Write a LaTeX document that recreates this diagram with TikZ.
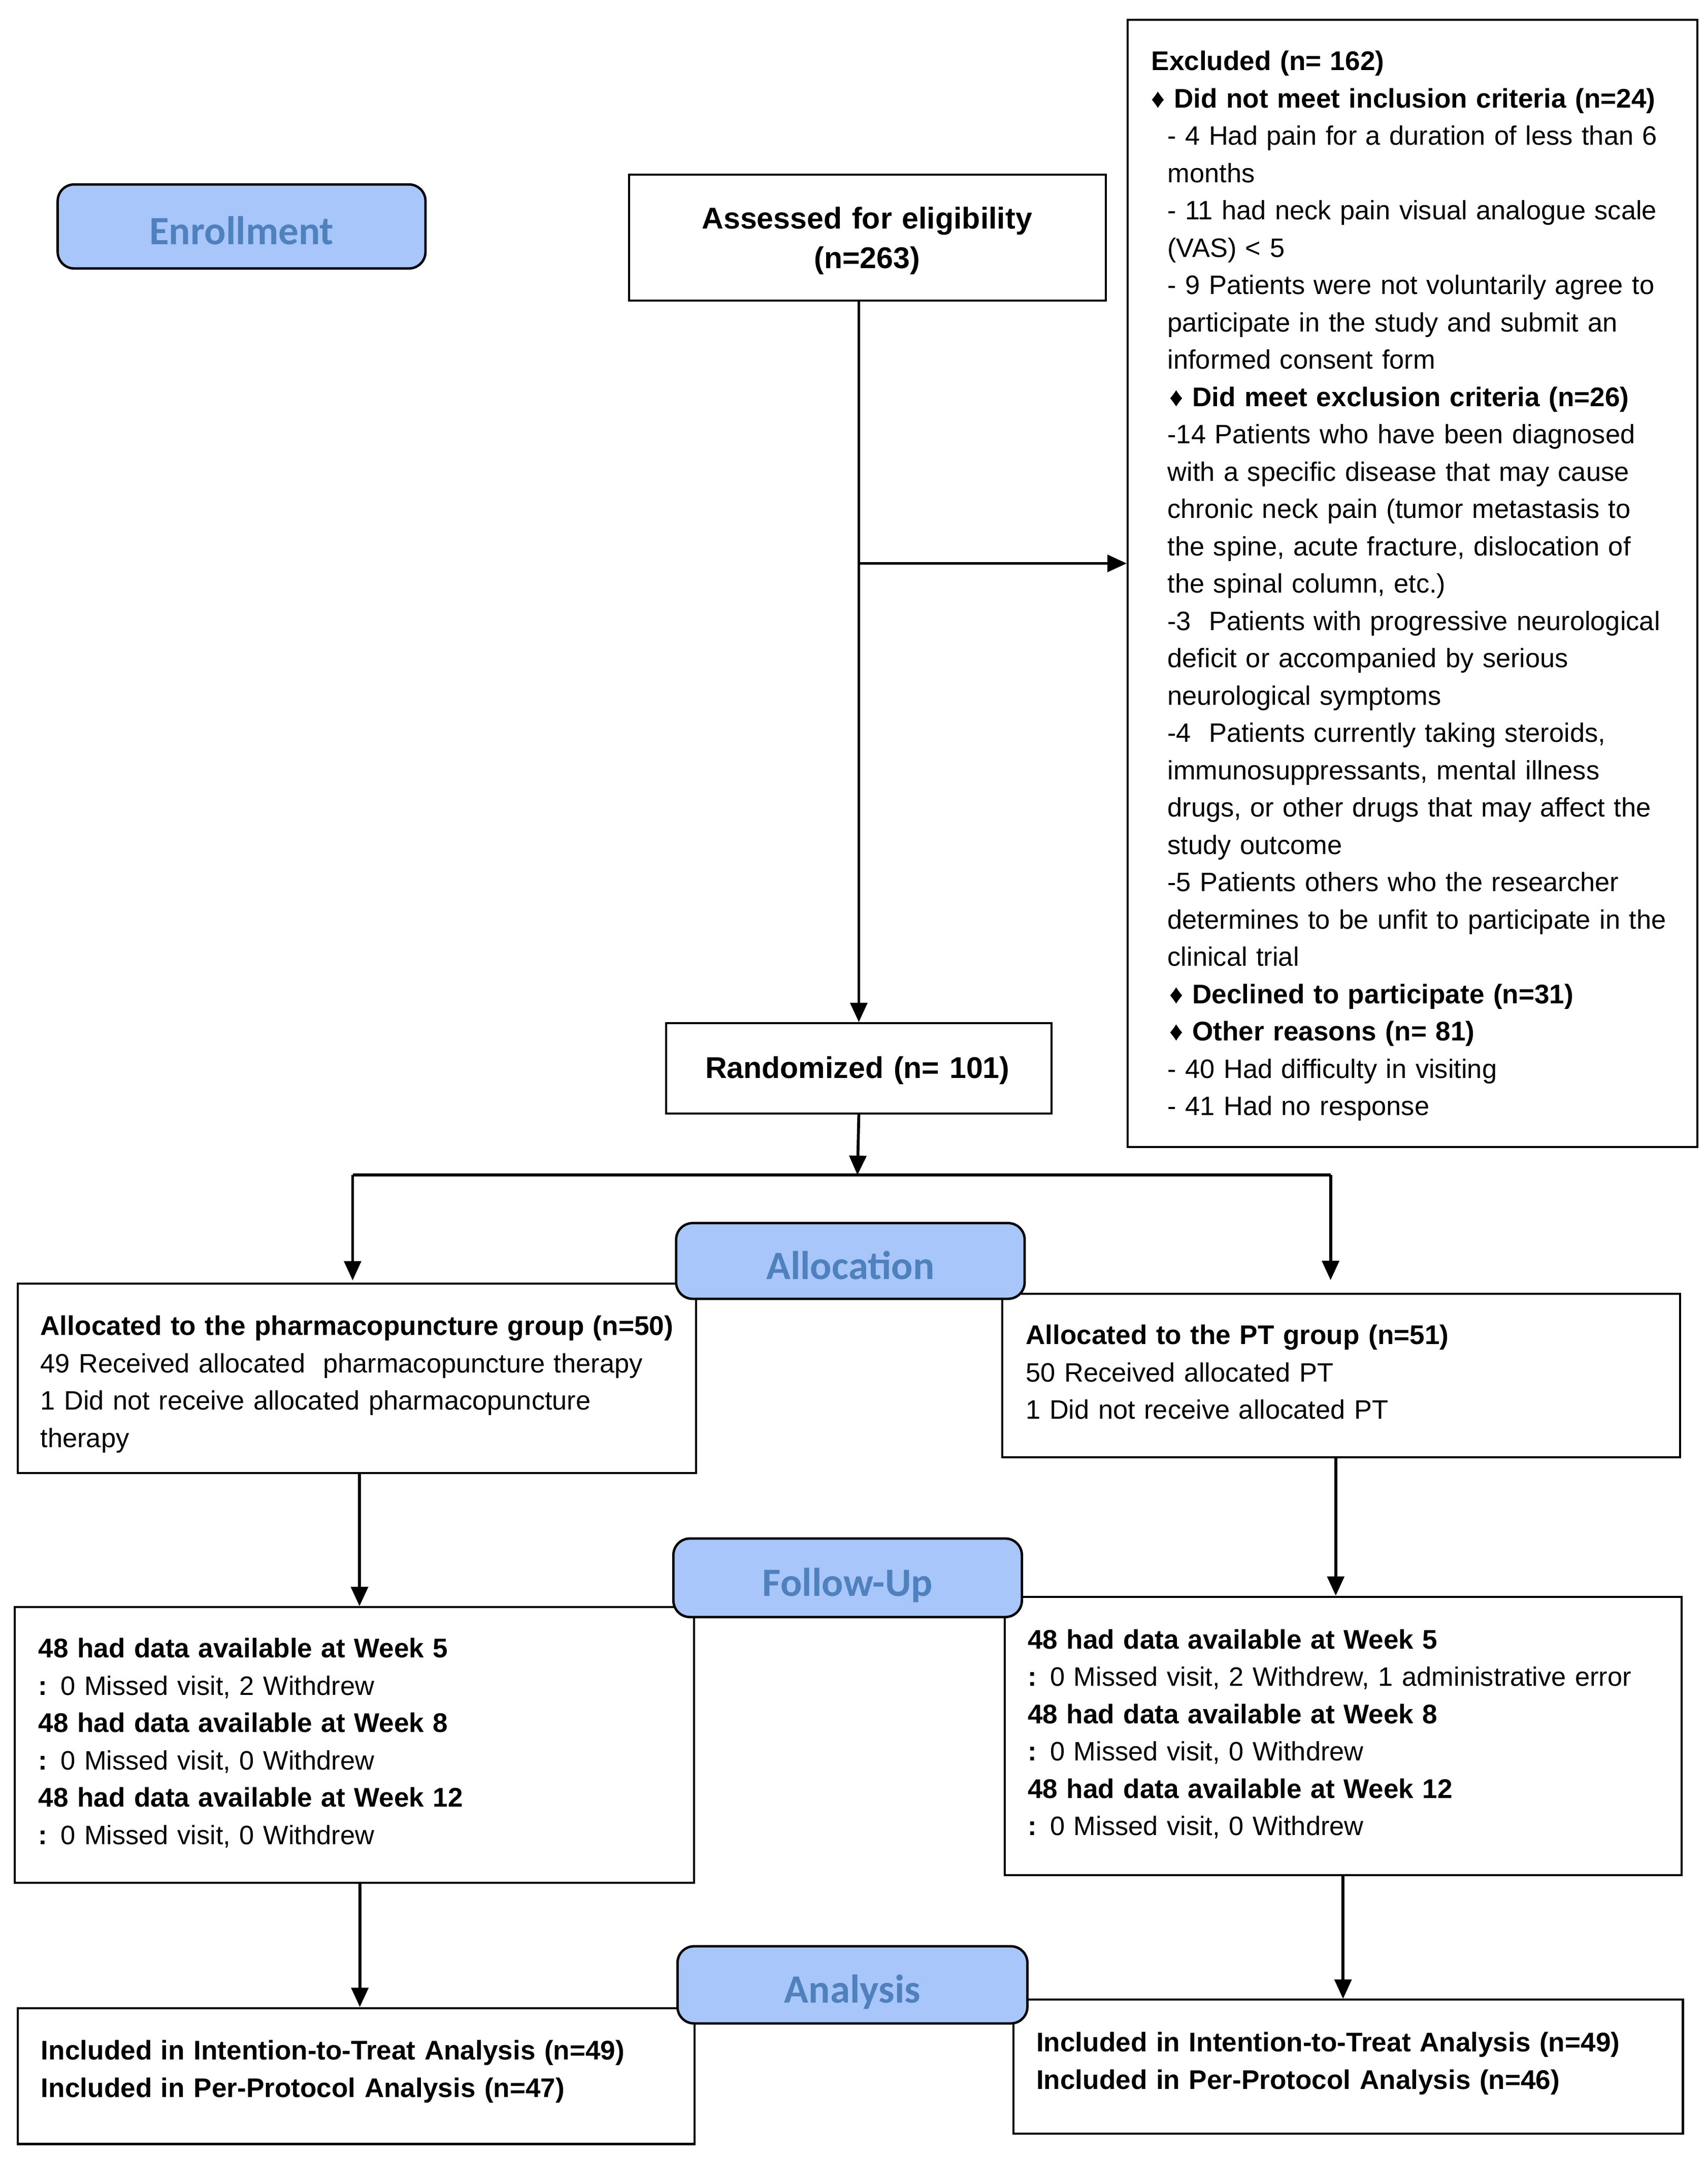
\documentclass[tikz,border=0pt]{standalone}
\usepackage{fontspec}
\setmainfont{Liberation Sans}
\newfontfamily\lblfont{Carlito}
\usetikzlibrary{arrows.meta,calc}
\definecolor{lblfill}{RGB}{169,198,250}
\definecolor{lbltext}{RGB}{79,129,189}
\newcommand\B[1]{{\fontsize{11.15}{15.42}\selectfont\bfseries #1}}
\tikzset{
  box/.style={draw=black, line width=0.85pt, fill=white, inner sep=0pt, anchor=north west},
  sz/.style 2 args={minimum width=#1*0.02cm, minimum height=#2*0.02cm},
  lbl/.style={draw=black, line width=1pt, fill=lblfill, rounded corners=0.24cm, text=lbltext,
    font=\lblfont\bfseries\fontsize{16.6}{20}\selectfont, inner sep=0pt, anchor=north west,
    text height=15pt, text depth=0pt},
  txt/.style={anchor=base west, inner sep=0pt, align=left, text width=#1,
    font=\fontsize{11.0}{15.42}\selectfont},
  bigtxt/.style={anchor=base, inner sep=0pt, align=center, text width=#1,
    font=\bfseries\fontsize{12.4}{16.4}\selectfont},
  arr/.style={line width=1.2pt, -{Triangle[length=8pt,width=7pt]}},
  conn/.style={line width=1.2pt},
}
\begin{document}
\begin{tikzpicture}[x=0.02cm,y=-0.02cm]
\fill[white] (0,0) rectangle (1240,1566.6);
\useasboundingbox (0,0) rectangle (1240,1566.6);

% ---- boxes ----
\node[box, sz={346}{91.5}] (assess) at (456,126) {};
\node[bigtxt=6.5cm] (assesst) at (629.5,165.9) {Assessed for eligibility\\(n=263)};

\node[box, sz={279.5}{65.5}] (rand) at (483,742) {};
\node[bigtxt=5cm] (randt) at (622.5,782.6) {Randomized (n= 101)};

\node[box, sz={413.5}{818.5}] (excl) at (818,13.5) {};
\node[txt=7.8cm] (exclt) at (835.5,51.2) {%
\B{Excluded (n= 162)}\\
\B{♦ Did not meet inclusion criteria (n=24)}\\
\hspace*{6.7pt}- 4 Had pain for a duration of less than 6\\
\hspace*{6.7pt}months\\
\hspace*{6.7pt}- 11 had neck pain visual analogue scale\\
\hspace*{6.7pt}(VAS) < 5\\
\hspace*{6.7pt}- 9 Patients were not voluntarily agree to\\
\hspace*{6.7pt}participate in the study and submit an\\
\hspace*{6.7pt}informed consent form\\
\hspace*{7.6pt}\B{♦ Did meet exclusion criteria (n=26)}\\
\hspace*{6.7pt}-14 Patients who have been diagnosed\\
\hspace*{6.7pt}with a specific disease that may cause\\
\hspace*{6.7pt}chronic neck pain (tumor metastasis to\\
\hspace*{6.7pt}the spine, acute fracture, dislocation of\\
\hspace*{6.7pt}the spinal column, etc.)\\
\hspace*{6.7pt}-3~ Patients with progressive neurological\\
\hspace*{6.7pt}deficit or accompanied by serious\\
\hspace*{6.7pt}neurological symptoms\\
\hspace*{6.7pt}-4~ Patients currently taking steroids,\\
\hspace*{6.7pt}immunosuppressants, mental illness\\
\hspace*{6.7pt}drugs, or other drugs that may affect the\\
\hspace*{6.7pt}study outcome\\
\hspace*{6.7pt}-5 Patients others who the researcher\\
\hspace*{6.7pt}determines to be unfit to participate in the\\
\hspace*{6.7pt}clinical trial\\
\hspace*{7.6pt}\B{♦ Declined to participate (n=31)}\\
\hspace*{7.6pt}\B{♦ Other reasons (n= 81)}\\
\hspace*{6.7pt}- 40 Had difficulty in visiting\\
\hspace*{6.7pt}- 41 Had no response};

\node[box, sz={492.5}{137.5}] (allocL) at (12,931) {};
\node[txt=9.3cm] (allocLt) at (29,969.4) {%
\B{Allocated to the pharmacopuncture group (n=50)}\\
49 Received allocated~ pharmacopuncture therapy\\
1 Did not receive allocated pharmacopuncture\\
therapy};

\node[box, sz={492}{119}] (allocR) at (727,938.3) {};
\node[txt=9.2cm] (allocRt) at (744.4,976) {%
\B{Allocated to the PT group (n=51)}\\
50 Received allocated PT\\
1 Did not receive allocated PT};

\node[box, sz={493}{200}] (fuL) at (10,1166) {};
\node[txt=9.3cm] (fuLt) at (27.5,1203.4) {%
\B{48 had data available at Week 5}\\
\B{:} 0 Missed visit, 2 Withdrew\\
\B{48 had data available at Week 8}\\
\B{:} 0 Missed visit, 0 Withdrew\\
\B{48 had data available at Week 12}\\
\B{:} 0 Missed visit, 0 Withdrew};

\node[box, sz={491.4}{202}] (fuR) at (728.6,1158.4) {};
\node[txt=9.3cm] (fuRt) at (745.8,1196.9) {%
\B{48 had data available at Week 5}\\
\B{:} 0 Missed visit, 2 Withdrew, 1 administrative error\\
\B{48 had data available at Week 8}\\
\B{:} 0 Missed visit, 0 Withdrew\\
\B{48 had data available at Week 12}\\
\B{:} 0 Missed visit, 0 Withdrew};

\node[box, sz={491.3}{98.7}] (anaL) at (12.2,1457) {};
\node[txt=9.3cm] (anaLt) at (29.5,1495.3) {%
\B{Included in Intention-to-Treat Analysis (n=49)}\\
\B{Included in Per-Protocol Analysis (n=47)}};

\node[box, sz={486}{97}] (anaR) at (735,1451) {};
\node[txt=9.2cm] (anaRt) at (752,1489.5) {%
\B{Included in Intention-to-Treat Analysis (n=49)}\\
\B{Included in Per-Protocol Analysis (n=46)}};

% ---- connectors ----
\coordinate (br) at (622.5,409);
\coordinate (split) at (622.5,853);
\coordinate (splitL) at (256,853);
\coordinate (splitR) at (966,853);

\draw[arr] (assess.south -| rand.north) -- (rand.north);
\draw[arr] (br) -- (br -| excl.west);
\draw[arr] (rand.south) -- (split);
\draw[conn] (splitL) -- (splitR);
\draw[arr, shorten >=0.03cm] (splitL) -- (splitL |- allocL.north);
\draw[arr, shorten >=0.18cm] (splitR) -- (splitR |- allocR.north);
\draw[arr] ($(allocL.south)+(2,0)$) -- ($(allocL.south |- fuL.north)+(2,0)$);
\draw[arr] ($(allocR.south)+(-4,0)$) -- ($(allocR.south |- fuR.north)+(-4,0)$);
\draw[arr] ($(fuL.south)+(4,0)$) -- ($(fuL.south |- anaL.north)+(4,0)$);
\draw[arr] (fuR.south) -- (fuR.south |- anaR.north);

% ---- stage labels ----
\node[lbl, sz={267}{61}] (enrol) at (41,133) {Enrollment};
\node[lbl, sz={253}{55}] (alloclbl) at (490,887) {Allocation};
\node[lbl, sz={253}{57}] (fulbl) at (488,1116) {Follow-Up};
\node[lbl, sz={254}{56}] (analbl) at (491,1412) {Analysis};
\end{tikzpicture}
\end{document}
